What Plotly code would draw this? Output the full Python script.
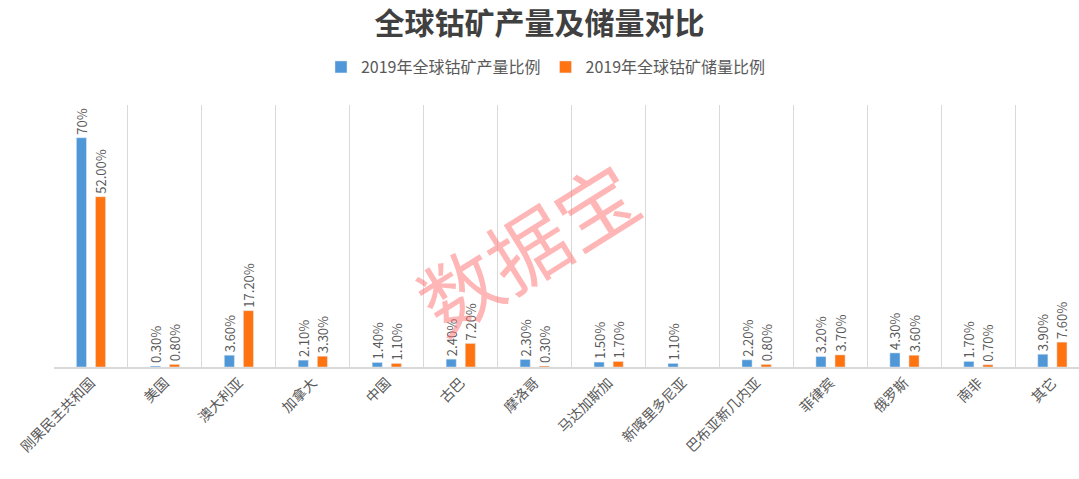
import plotly.graph_objects as go

categories = ["刚果民主共和国", "美国", "澳大利亚", "加拿大", "中国", "古巴", "摩洛哥",
              "马达加斯加", "新喀里多尼亚", "巴布亚新几内亚", "菲律宾", "俄罗斯", "南非", "其它"]
production = [70, 0.30, 3.60, 2.10, 1.40, 2.40, 2.30, 1.50, 1.10, 2.20, 3.20, 4.30, 1.70, 3.90]
reserves = [52.00, 0.80, 17.20, 3.30, 1.10, 7.20, 0.30, 1.70, None, 0.80, 3.70, 3.60, 0.70, 7.60]
production_labels = ["70%", "0.30%", "3.60%", "2.10%", "1.40%", "2.40%", "2.30%", "1.50%",
                     "1.10%", "2.20%", "3.20%", "4.30%", "1.70%", "3.90%"]
reserves_labels = ["52.00%", "0.80%", "17.20%", "3.30%", "1.10%", "7.20%", "0.30%", "1.70%",
                   "", "0.80%", "3.70%", "3.60%", "0.70%", "7.60%"]

FONT = "Noto Sans CJK SC"
GRAY = "#595959"

fig = go.Figure()
fig.add_trace(go.Bar(
    name="2019年全球钴矿产量比例", x=categories, y=production,
    marker=dict(color="#4F97D6"), text=production_labels,
    textposition="outside", textangle=-90, cliponaxis=False, constraintext="none",
    textfont=dict(size=13, color=GRAY, family=FONT),
))
fig.add_trace(go.Bar(
    name="2019年全球钴矿储量比例", x=categories, y=reserves,
    marker=dict(color="#FF7410"), text=reserves_labels,
    textposition="outside", textangle=-90, cliponaxis=False, constraintext="none",
    textfont=dict(size=13, color=GRAY, family=FONT),
))

fig.update_layout(
    width=1079, height=479,
    margin=dict(l=54, r=0, t=105, b=112),
    paper_bgcolor="white", plot_bgcolor="white",
    barmode="group", bargap=0.484, bargroupgap=0.47,
    font=dict(family=FONT, color=GRAY),
    title=dict(text="<b>全球钴矿产量及储量对比</b>", x=0.5, xanchor="center",
               y=0.95, yanchor="middle", yref="container",
               font=dict(size=30, color="#404040", family=FONT)),
    legend=dict(orientation="h", x=0.506, xanchor="center", y=0.86, yanchor="middle",
                xref="container", yref="container",
                font=dict(size=16, color=GRAY, family=FONT),
                itemwidth=30, tracegroupgap=0),
    showlegend=True,
)
fig.update_xaxes(
    type="category", range=[-0.5, 13.36], tickson="boundaries",
    showgrid=True, gridcolor="#D9D9D9", gridwidth=1,
    showline=True, linecolor="#D9D9D9", linewidth=2,
    ticks="", tickangle=-45, tickfont=dict(size=14, color=GRAY, family=FONT),
)
fig.update_yaxes(range=[0, 80], showgrid=False, showticklabels=False, zeroline=False,
                 showline=False)

# watermark, positioned from pixel location
pw, ph = 1079 - 54, 479 - 105 - 112
fig.add_annotation(
    text="数据宝", x=(526 - 54) / pw, y=(479 - 112 - 245) / ph, xref="paper", yref="paper",
    showarrow=False, textangle=-32,
    font=dict(size=80, color="rgba(255,110,110,0.5)", family=FONT),
)

fig.write_html("out.html")
